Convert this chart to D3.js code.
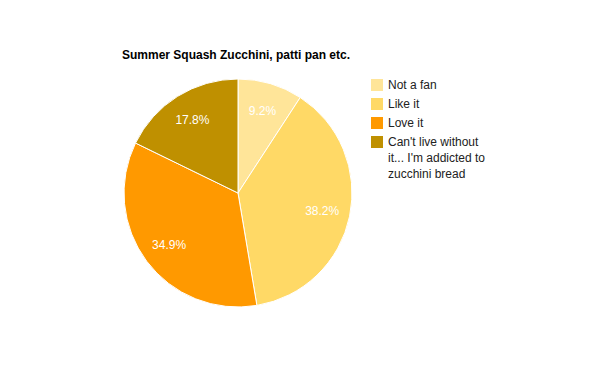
<!DOCTYPE html>
<meta charset="utf-8">
<style>
body { margin: 0; background: #fff; }
text { font-family: Arial, "Liberation Sans", sans-serif; }
</style>
<svg width="600" height="371"></svg>
<script src="https://d3js.org/d3.v7.min.js"></script>
<script>

var title = "Summer Squash Zucchini, patti pan etc.";
var categories = ["Not a fan", "Like it", "Love it", "Can't live without it... I'm addicted to zucchini bread"];
var legendLines = [["Not a fan"], ["Like it"], ["Love it"], ["Can't live without", "it... I'm addicted to", "zucchini bread"]];
var values = [9.2, 38.2, 34.9, 17.8];
var colors = ["#ffe599", "#ffd966", "#ff9900", "#bf9000"];

var svg = d3.select("svg"),
    cx = 238, cy = 193, radius = 114;

svg.append("rect").attr("width", 600).attr("height", 371).attr("fill", "#fff");

svg.append("text")
    .attr("x", 122)
    .attr("y", 59)
    .attr("font-size", 12)
    .attr("font-weight", "bold")
    .attr("fill", "#000")
    .text(title);

var color = d3.scaleOrdinal().domain(categories).range(colors);

var pie = d3.pie().sort(null).value(function(d, i) { return values[i]; });
var arcs = pie(categories);

var arc = d3.arc().innerRadius(0).outerRadius(radius),
    labelArc = d3.arc().innerRadius(172).outerRadius(0);

var g = svg.append("g").attr("transform", "translate(" + cx + "," + cy + ")");

g.selectAll("path")
    .data(arcs)
  .enter().append("path")
    .attr("d", arc)
    .attr("fill", function(d) { return color(d.data); })
    .attr("stroke", "#fff")
    .attr("stroke-width", 1);

var total = d3.sum(values);

g.selectAll("text")
    .data(arcs)
  .enter().append("text")
    .attr("transform", function(d) { return "translate(" + labelArc.centroid(d) + ")"; })
    .attr("dy", "0.35em")
    .attr("text-anchor", "middle")
    .attr("font-size", 12)
    .attr("fill", "#fff")
    .text(function(d) { return (d.value / total * 100).toFixed(1) + "%"; });

var legend = svg.append("g").attr("transform", "translate(371,79)");

var y = d3.scalePoint().domain(categories).range([0, 57]);

var item = legend.selectAll("g")
    .data(categories)
  .enter().append("g")
    .attr("transform", function(d) { return "translate(0," + y(d) + ")"; });

item.append("rect")
    .attr("width", 12)
    .attr("height", 12)
    .attr("fill", function(d) { return color(d); });

item.append("text")
    .attr("x", 17)
    .attr("y", 10)
    .attr("font-size", 12)
    .attr("fill", "#222")
    .selectAll("tspan")
    .data(function(d, i) { return legendLines[i]; })
  .enter().append("tspan")
    .attr("x", 17)
    .attr("dy", function(d, i) { return i ? 16 : 0; })
    .text(function(d) { return d; });

</script>
